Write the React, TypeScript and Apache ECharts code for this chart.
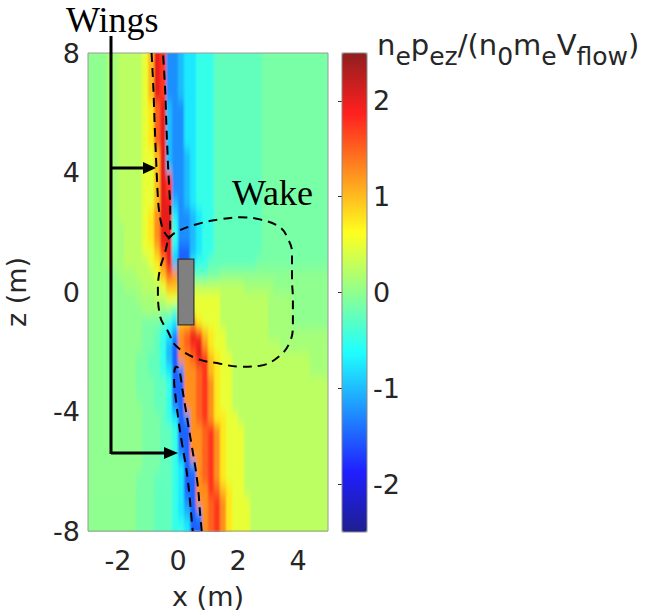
import React, { useEffect, useRef } from "react";
import * as echarts from "echarts";

// ---------- data ----------
const X_RANGE = [-3, 5];
const Z_RANGE = [-8, 8];
const CELL_DX = 0.2;
const CELL_DZ = 0.4;
const X_TICKS = [-2, 0, 2, 4];
const Z_TICKS = [-8, -4, 0, 4, 8];
const CBAR_TICKS = [-2, -1, 0, 1, 2];
const CBAR_RANGE = [-2.5, 2.5];

// value codes (step 0.25)
const LEVEL: Record<string, number> = {
  j: -2.5, i: -2.25, h: -2.0, g: -1.75, f: -1.5, e: -1.25, d: -1.0, c: -0.75, b: -0.5, a: -0.25,
  "-": -0.125, "0": 0, "+": 0.125,
  "1": 0.25, "2": 0.5, "3": 0.75, "4": 1.0, "5": 1.25, "6": 1.5, "7": 1.75, "8": 2.0, "9": 2.25, X: 2.5,
};

// rows from z = 8 (top) to z = -8 (bottom); columns from x = -3 to x = 5 (0.2 m each)
const FIELD_ROWS: string[] = [
  "000++" + "11112" + "487ee" + "dccbb" + "baaaa" + "aaaa-" + "-----" + "-----",
  "000++" + "11112" + "487ee" + "dccbb" + "baaaa" + "aaaa-" + "-----" + "-----",
  "000++" + "11112" + "487ee" + "dccbb" + "baaaa" + "aaaa-" + "-----" + "-----",
  "000++" + "11112" + "487ee" + "dccbb" + "baaaa" + "aaaa-" + "-----" + "-----",
  "000++" + "11112" + "368de" + "eccbb" + "baaaa" + "aaaa-" + "-----" + "-----",
  "000++" + "11112" + "368de" + "eccbb" + "baaaa" + "aaaa-" + "-----" + "-----",
  "000++" + "11112" + "368de" + "eccbb" + "baaaa" + "aaaa-" + "-----" + "-----",
  "000++" + "11112" + "368de" + "eccbb" + "baaaa" + "aaaa-" + "-----" + "-----",
  "000++" + "11112" + "248de" + "edcbb" + "baaaa" + "aaaa-" + "-----" + "-----",
  "000++" + "11112" + "248de" + "edcbb" + "baaaa" + "aaaa-" + "-----" + "-----",
  "000++" + "11112" + "2487e" + "edcbb" + "baaaa" + "aaaa-" + "-----" + "-----",
  "000++" + "11112" + "2487e" + "edcbb" + "baaaa" + "aaaa-" + "-----" + "-----",
  "000++" + "11112" + "2488d" + "edcbb" + "baaaa" + "aaaa-" + "-----" + "-----",
  "000++" + "11112" + "3588c" + "eedcb" + "baaaa" + "aaaa-" + "-----" + "-----",
  "000++" + "+1112" + "3588b" + "eedcb" + "baaaa" + "aaaa-" + "-----" + "-----",
  "000++" + "+1112" + "3588b" + "eedcb" + "baaaa" + "aaaa-" + "-----" + "-----",
  "000++" + "+1112" + "2478c" + "ffdcb" + "baaaa" + "aaaa-" + "-----" + "-----",
  "000++" + "+1111" + "2358d" + "ffcbb" + "aaaaa" + "aaa--" + "-----" + "-----",
  "00000" + "+++11" + "12465" + "ffaaa" + "--000" + "00000" + "00000" + "00000",
  "00000" + "0+++1" + "11244" + "21111" + "11111" + "1++++" + "+0000" + "00000",
  "00000" + "000++" + "+1122" + "22222" + "22111" + "11111" + "++++0" + "00000",
  "00000" + "0000+" + "++00a" + "22222" + "22111" + "11111" + "++++0" + "00000",
  "00000" + "0000-" + "--abc" + "44532" + "22111" + "11111" + "++++0" + "00000",
  "00000" + "0000-" + "-abce" + "56874" + "32211" + "11111" + "+++++" + "+++++",
  "00000" + "0000-" + "-abdf" + "56785" + "32211" + "11111" + "11+++" + "+++++",
  "00000" + "000--" + "aabdf" + "55687" + "43221" + "11111" + "11111" + "11+++",
  "00000" + "000--" + "aabcf" + "e5567" + "43221" + "11111" + "11111" + "11+++",
  "00000" + "000--" + "-aabf" + "f5567" + "53221" + "11111" + "11111" + "11111",
  "00000" + "000--" + "-aabf" + "f5567" + "53221" + "11111" + "11111" + "11111",
  "00000" + "0000-" + "-aabe" + "f5567" + "53221" + "11111" + "11111" + "11111",
  "00000" + "0000-" + "--abc" + "fe567" + "53322" + "11111" + "11111" + "11111",
  "00000" + "0000-" + "--aab" + "ff556" + "75322" + "21111" + "11111" + "11111",
  "00000" + "0000-" + "--aab" + "ff556" + "75322" + "21111" + "11111" + "11111",
  "00000" + "0000-" + "--aab" + "ef556" + "75322" + "21111" + "11111" + "11111",
  "00000" + "0000-" + "--aab" + "cfe56" + "75322" + "21111" + "11111" + "11111",
  "00000" + "000--" + "-aaab" + "cff56" + "75322" + "21111" + "11111" + "11111",
  "00000" + "000--" + "-aaab" + "cff55" + "76432" + "21111" + "11111" + "11111",
  "00000" + "000--" + "-aaab" + "cef55" + "67532" + "22111" + "11111" + "11111",
  "00000" + "000--" + "-aaab" + "cdfe5" + "67532" + "22111" + "11111" + "11111",
  "00000" + "000--" + "-aaab" + "bcff5" + "67532" + "22111" + "11111" + "11111",
];

// dashed contours (x, z in metres)
const UPPER_WING_X = [-0.88, -0.82, -0.77, -0.72, -0.66, -0.6, -0.52, -0.42, -0.3, -0.26, -0.26, -0.3, -0.33, -0.38, -0.43, -0.5];
const UPPER_WING_Z = [8, 6.8, 5.4, 4.2, 3.0, 2.5, 2.15, 1.95, 1.83, 2.2, 2.8, 3.6, 4.2, 5.4, 6.8, 8];
const LOWER_WING_X = [0.79, 0.73, 0.68, 0.6, 0.49, 0.38, 0.27, 0.16, 0.08, 0.02, -0.06, -0.12, -0.13, -0.1, -0.02, 0.07, 0.18, 0.29, 0.37, 0.43, 0.49];
const LOWER_WING_Z = [-8, -7.34, -6.68, -6.01, -5.34, -4.68, -4.01, -3.34, -2.8, -2.55, -2.5, -2.65, -3.0, -3.34, -4.01, -4.68, -5.34, -6.01, -6.68, -7.34, -8];
const WAKE_X = [-0.33, -0.07, 0.63, 1.4, 2.07, 2.73, 3.4, 3.67, 3.8, 3.8, 3.83, 3.83, 3.73, 3.4, 2.73, 2.07, 1.4, 0.63, -0.07, -0.33, -0.6, -0.67, -0.6, -0.43, -0.33];
const WAKE_Z = [1.77, 2.0, 2.27, 2.43, 2.5, 2.43, 2.17, 1.77, 1.33, 0.43, -0.23, -1.13, -1.67, -2.13, -2.47, -2.5, -2.4, -2.23, -1.8, -1.33, -0.8, 0.1, 0.77, 1.33, 1.77];
const BODY_X = [0, 0.53];
const BODY_Z = [-1.1, 1.1];

// colour-bar title pieces: [text, isSubscript]
const CBAR_TITLE: [string, boolean][] = [
  ["n", false], ["e", true], ["p", false], ["ez", true], ["/(n", false], ["0", true],
  ["m", false], ["e", true], ["V", false], ["flow", true], [")", false],
];

// MATLAB jet colormap stops (slightly washed, as in the picture)
const JET = ["#1f1f8f", "#1f1fff", "#1f8fff", "#1fffff", "#8fff8f", "#ffff1f", "#ff8f1f", "#ff1f1f", "#8f1f1f"];

const SANS = "DejaVu Sans";
const SERIF = "Liberation Serif";
const TXT = "#262626";

// layout (px)
const PLOT = { left: 88, top: 53, width: 240, height: 479 };
const CBAR = { left: 342, top: 53, width: 25, height: 479 };
const PAD = 14;

function buildCells(): number[][] {
  const out: number[][] = [];
  FIELD_ROWS.forEach((row, r) => {
    const z = Z_RANGE[1] - (r + 0.5) * CELL_DZ;
    for (let c = 0; c < row.length; c++) {
      const x = X_RANGE[0] + (c + 0.5) * CELL_DX;
      out.push([x, z, LEVEL[row[c]], r, c]);
    }
  });
  return out;
}

function pairs(xs: number[], zs: number[]): number[][] {
  return xs.map((x, i) => [x, zs[i]]);
}

function titleElements(): any[] {
  const MAIN = 29, SUB = 25;
  const ctx = document.createElement("canvas").getContext("2d")!;
  let x = 377;
  const els: any[] = [];
  CBAR_TITLE.forEach(([t, sub]) => {
    const size = sub ? SUB : MAIN;
    const font = `${size}px "${SANS}"`;
    ctx.font = font;
    els.push({
      type: "text", x, y: sub ? 69 : 59, z: 20,
      style: { text: t, font, fill: TXT, textAlign: "left", textVerticalAlign: "bottom" },
    });
    x += ctx.measureText(t).width;
  });
  return els;
}

export default function App() {
  const heatRef = useRef<HTMLDivElement>(null);
  const mainRef = useRef<HTMLDivElement>(null);
  useEffect(() => {
    document.body.style.margin = "0";
    if (!heatRef.current || !mainRef.current) return;
    const nRows = FIELD_ROWS.length;
    const nCols = FIELD_ROWS[0].length;

    // field layer
    const heat = echarts.init(heatRef.current, undefined, { renderer: "svg" });
    heat.setOption({
      animation: false,
      grid: { left: PAD, top: PAD, width: PLOT.width, height: PLOT.height },
      xAxis: { type: "value", min: X_RANGE[0], max: X_RANGE[1], show: false },
      yAxis: { type: "value", min: Z_RANGE[0], max: Z_RANGE[1], show: false },
      visualMap: {
        show: false, type: "continuous", min: CBAR_RANGE[0], max: CBAR_RANGE[1], dimension: 2, seriesIndex: 0,
        inRange: { color: JET },
      },
      series: [
        {
          type: "custom", clip: false,
          dimensions: ["x", "z", "v", "r", "c"], encode: { x: 0, y: 1 },
          data: buildCells(),
          renderItem: (params: any, api: any) => {
            const x = api.value(0), z = api.value(1), r = api.value(3), c = api.value(4);
            const p0 = api.coord([x - CELL_DX / 2, z + CELL_DZ / 2]);
            const p1 = api.coord([x + CELL_DX / 2, z - CELL_DZ / 2]);
            let x0 = p0[0], y0 = p0[1], x1 = p1[0] + 0.6, y1 = p1[1] + 0.6;
            if (c === 0) x0 -= PAD;
            if (c === nCols - 1) x1 += PAD;
            if (r === 0) y0 -= PAD;
            if (r === nRows - 1) y1 += PAD;
            return { type: "rect", shape: { x: x0, y: y0, width: x1 - x0, height: y1 - y0 }, style: { fill: api.visual("color") } };
          },
        },
      ],
    });

    // axes, colour bar, contours and annotations
    const chart = echarts.init(mainRef.current, undefined, { renderer: "svg" });
    const dashed = { color: "#000", width: 2, type: [9, 6] as any };
    const option: any = {
      animation: false,
      backgroundColor: "transparent",
      grid: [
        { ...PLOT, show: true, borderColor: "#9a9a9a", borderWidth: 1, backgroundColor: "transparent" },
        { ...CBAR, show: false },
      ],
      xAxis: [
        {
          gridIndex: 0, type: "value", min: X_RANGE[0], max: X_RANGE[1],
          axisLine: { show: false }, axisTick: { show: false }, splitLine: { show: false },
          axisLabel: { customValues: X_TICKS, fontSize: 27, color: TXT, fontFamily: SANS, margin: 16 },
          name: "x (m)", nameLocation: "middle", nameGap: 52,
          nameTextStyle: { fontSize: 27, color: TXT, fontFamily: SANS },
        },
        { gridIndex: 1, type: "value", min: 0, max: 1, show: false },
      ],
      yAxis: [
        {
          gridIndex: 0, type: "value", min: Z_RANGE[0], max: Z_RANGE[1],
          axisLine: { show: false }, axisTick: { show: false }, splitLine: { show: false },
          axisLabel: { customValues: Z_TICKS, fontSize: 27, color: TXT, fontFamily: SANS, margin: 8 },
          name: "z (m)", nameLocation: "middle", nameGap: 58, nameRotate: 90,
          nameTextStyle: { fontSize: 27, color: TXT, fontFamily: SANS },
        },
        {
          gridIndex: 1, type: "value", min: CBAR_RANGE[0], max: CBAR_RANGE[1], position: "right",
          axisLine: { show: false }, splitLine: { show: false },
          axisTick: { show: true, inside: true, length: 4, customValues: CBAR_TICKS, lineStyle: { color: "#333" } },
          axisLabel: { customValues: CBAR_TICKS, fontSize: 27, color: TXT, fontFamily: SANS, margin: 6 },
        },
      ],
      visualMap: {
        type: "continuous", min: CBAR_RANGE[0], max: CBAR_RANGE[1], dimension: 2, seriesIndex: 4,
        inRange: { color: JET }, calculable: false, left: CBAR.left, top: CBAR.top,
        itemWidth: CBAR.width, itemHeight: CBAR.height, padding: 0, orient: "vertical",
      },
      series: [
        {
          type: "custom", xAxisIndex: 0, yAxisIndex: 0, z: 3,
          data: [[BODY_X[0], BODY_X[1], BODY_Z[0], BODY_Z[1]]],
          renderItem: (params: any, api: any) => {
            const a = api.coord([api.value(0), api.value(3)]);
            const b = api.coord([api.value(1), api.value(2)]);
            return {
              type: "rect",
              shape: { x: a[0], y: a[1], width: b[0] - a[0], height: b[1] - a[1] },
              style: { fill: "#808080", stroke: "#333", lineWidth: 1.2 },
            };
          },
        },
        { type: "line", data: pairs(UPPER_WING_X, UPPER_WING_Z), showSymbol: false, smooth: 0.3, lineStyle: dashed, z: 5, clip: true },
        { type: "line", data: pairs(LOWER_WING_X, LOWER_WING_Z), showSymbol: false, smooth: 0.3, lineStyle: dashed, z: 5, clip: true },
        { type: "line", data: pairs(WAKE_X, WAKE_Z), showSymbol: false, smooth: 0.4, lineStyle: dashed, z: 5, clip: true },
        { type: "custom", xAxisIndex: 0, yAxisIndex: 0, data: [], renderItem: () => null },
      ],
      graphic: [
        { type: "rect", shape: { x: CBAR.left, y: CBAR.top, width: CBAR.width, height: CBAR.height }, style: { fill: "none", stroke: "#8a8a8a", lineWidth: 1 }, z: 20 },
        { type: "line", shape: { x1: 111, y1: 36, x2: 111, y2: 454 }, style: { stroke: "#000", lineWidth: 3 }, z: 20 },
        { type: "line", shape: { x1: 111, y1: 168, x2: 146, y2: 168 }, style: { stroke: "#000", lineWidth: 3 }, z: 20 },
        { type: "polygon", shape: { points: [[143, 162], [156, 168], [143, 174]] }, style: { fill: "#000" }, z: 20 },
        { type: "line", shape: { x1: 111, y1: 453, x2: 167, y2: 453 }, style: { stroke: "#000", lineWidth: 3 }, z: 20 },
        { type: "polygon", shape: { points: [[164, 447], [178, 453], [164, 459]] }, style: { fill: "#000" }, z: 20 },
        { type: "text", x: 66, y: 2, z: 20, style: { text: "Wings", font: `36px "${SERIF}"`, fill: "#000" } },
        { type: "text", x: 232, y: 175, z: 20, style: { text: "Wake", font: `36px "${SERIF}"`, fill: "#000" } },
        ...titleElements(),
      ],
    };
    chart.setOption(option);
    return () => {
      heat.dispose();
      chart.dispose();
    };
  }, []);
  return (
    <div style={{ position: "relative", width: 645, height: 615, background: "#fff", overflow: "hidden" }}>
      <svg width="0" height="0" style={{ position: "absolute" }}>
        <defs>
          <filter id="smoothField" x="-5%" y="-5%" width="110%" height="110%">
            <feGaussianBlur stdDeviation="1.2 5.5" />
          </filter>
        </defs>
      </svg>
      <div style={{ position: "absolute", left: PLOT.left, top: PLOT.top, width: PLOT.width, height: PLOT.height, overflow: "hidden" }}>
        <div
          ref={heatRef}
          style={{ position: "absolute", left: -PAD, top: -PAD, width: PLOT.width + 2 * PAD, height: PLOT.height + 2 * PAD, filter: "url(#smoothField)" }}
        />
      </div>
      <div ref={mainRef} style={{ position: "absolute", left: 0, top: 0, width: 645, height: 615 }} />
    </div>
  );
}
